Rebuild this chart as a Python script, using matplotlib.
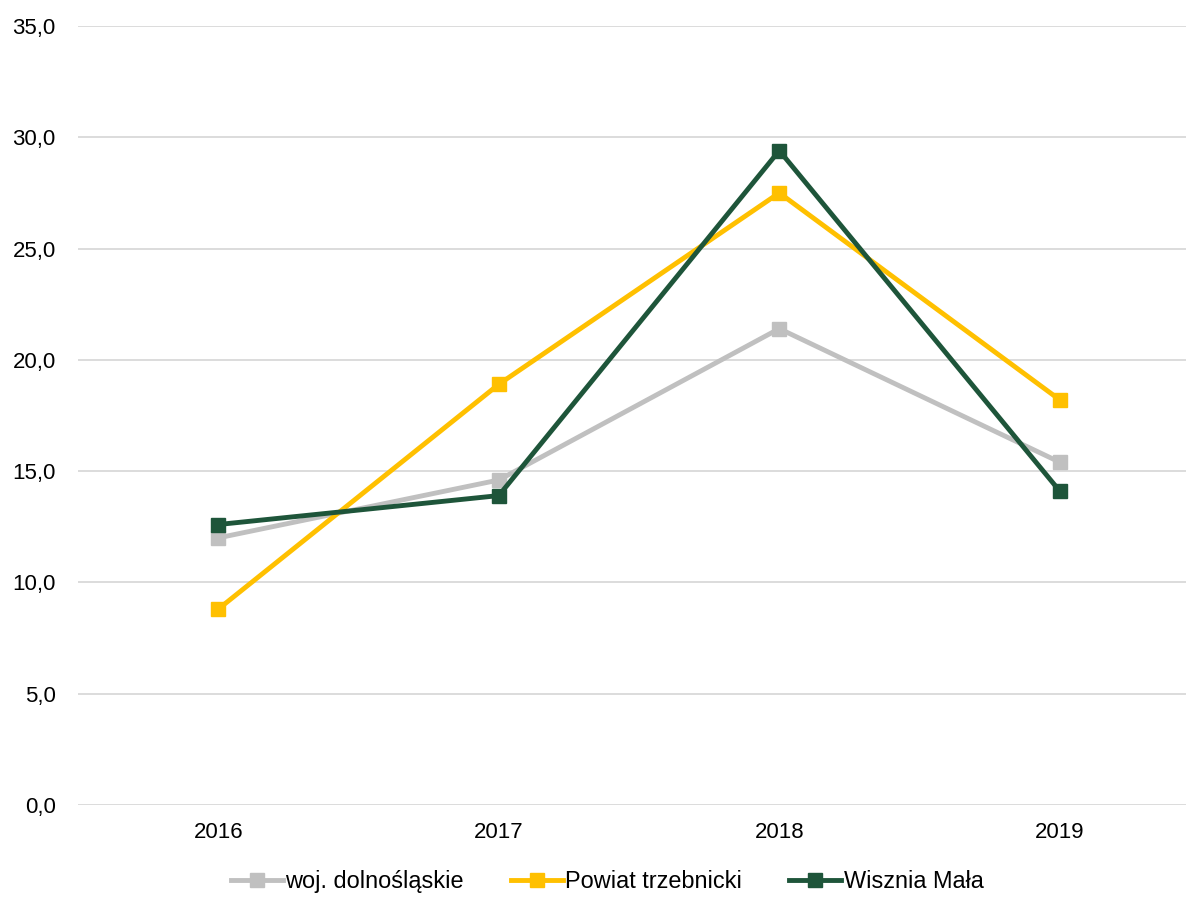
import matplotlib
matplotlib.use('Agg')
import matplotlib.pyplot as plt

plt.rcParams['font.family'] = ['Liberation Sans', 'DejaVu Sans']

years = ['2016', '2017', '2018', '2019']
woj = [12.0, 14.6, 21.4, 15.4]
powiat = [8.8, 18.9, 27.5, 18.2]
wisznia = [12.6, 13.9, 29.4, 14.1]

series = [
    ('woj. dolnośląskie', woj, '#c0c0c0'),
    ('Powiat trzebnicki', powiat, '#ffc000'),
    ('Wisznia Mała', wisznia, '#1e553a'),
]

fig = plt.figure(figsize=(11.86, 8.98), dpi=100)
ax = fig.add_axes([0.0658, 0.1036, 0.9342, 0.8675])

x = range(len(years))
for name, vals, col in series:
    ax.plot(x, vals, color=col, lw=3.5, marker='s', markersize=10,
            label=name, solid_joinstyle='miter')

ax.set_ylim(0, 35)
ax.set_yticks([0, 5, 10, 15, 20, 25, 30, 35])
ax.set_yticklabels([f'{v:.1f}'.replace('.', ',') for v in range(0, 40, 5)])
ax.set_xticks(list(x))
ax.set_xticklabels(years)
ax.set_xlim(-0.5, 3.45)

ax.grid(axis='y', color='#d9d9d9', lw=1.3)
ax.set_axisbelow(True)
for s in ax.spines.values():
    s.set_visible(False)
ax.tick_params(length=0, labelsize=16, colors='black')
ax.tick_params(axis='x', pad=12)
ax.tick_params(axis='y', pad=16)

fig.legend(loc='center', bbox_to_anchor=(0.512, 0.018), ncol=3, frameon=False,
           fontsize=16.9, handlelength=2.2, handletextpad=0.12, columnspacing=2.0)

fig.savefig('out.png', dpi=100)
